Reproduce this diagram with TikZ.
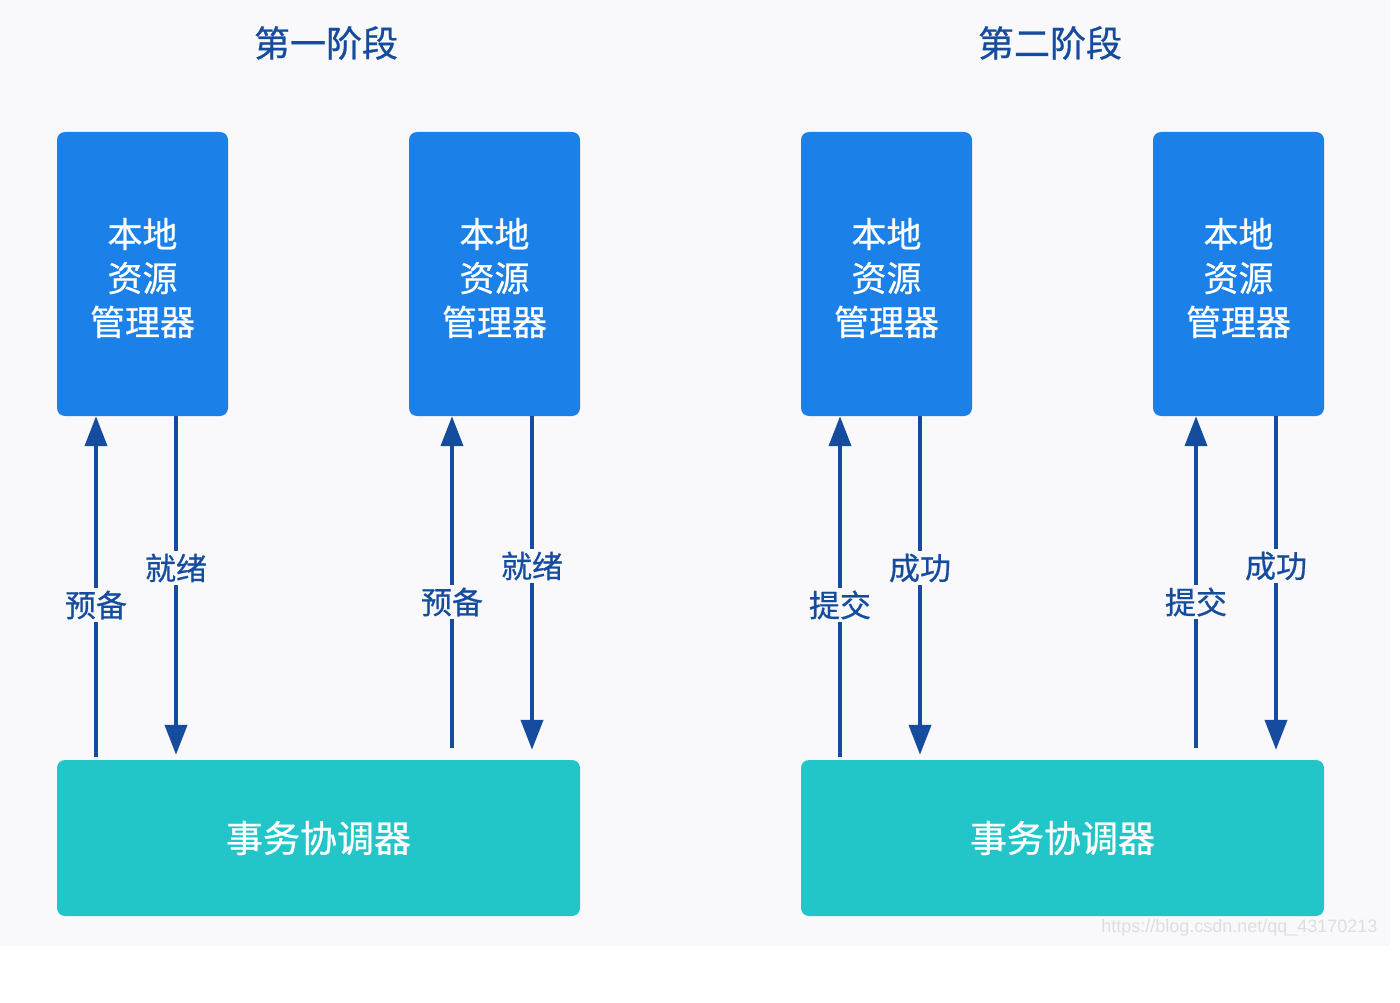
\documentclass[tikz,border=0pt]{standalone}
\usepackage{fontspec}
\setmainfont{Liberation Sans}
\newfontfamily\cjk{Noto Sans CJK SC}[FakeBold=0.7]
\usetikzlibrary{arrows.meta}
\definecolor{bgc}{RGB}{249,249,251}
\definecolor{boxblue}{RGB}{27,128,232}
\definecolor{boxteal}{RGB}{34,198,200}
\definecolor{darkb}{RGB}{22,76,158}
\definecolor{wmark}{RGB}{222,222,226}
\tikzset{
  rm/.style={rectangle, rounded corners=8pt, fill=boxblue, draw=none,
    minimum width=171pt, minimum height=284pt},
  rmtext/.style={text=white, align=center, inner sep=0pt,
    font=\cjk\fontsize{35}{44}\selectfont},
  tc/.style={rectangle, rounded corners=8pt, fill=boxteal, draw=none,
    minimum width=523pt, minimum height=156pt, text=white,
    font=\cjk\fontsize{37}{44}\selectfont},
  ttl/.style={text=darkb, font=\cjk\fontsize{36}{40}\selectfont},
  lbl/.style={fill=bgc, text=darkb, inner sep=3pt, font=\cjk\fontsize{31}{34}\selectfont},
  arr/.style={draw=darkb, line width=4pt, -{Triangle[length=30pt,width=22pt]}},
}
\begin{document}
\begin{tikzpicture}[x=1pt,y=-1pt]
\useasboundingbox (0,0) rectangle (1400,1003);
\fill[white] (0,0) rectangle (1400,1003);
\fill[bgc] (0,0) rectangle (1390,946);

\node[ttl] (t1) at (326,43) {第一阶段};
\node[ttl] (t2) at (1050,43) {第二阶段};

\node[rm] (r1) at (142.5,274) {};
\node[rm] (r2) at (494.5,274) {};
\node[rm] (r3) at (886.5,274) {};
\node[rm] (r4) at (1238.5,274) {};
\node[rmtext, yshift=-4pt] (r1t) at (r1.center) {本地\\资源\\管理器};
\node[rmtext, yshift=-4pt] (r2t) at (r2.center) {本地\\资源\\管理器};
\node[rmtext, yshift=-4pt] (r3t) at (r3.center) {本地\\资源\\管理器};
\node[rmtext, yshift=-4pt] (r4t) at (r4.center) {本地\\资源\\管理器};

\node[tc] (c1) at (318.5,838) {事务协调器};
\node[tc] (c2) at (1062.5,838) {事务协调器};

\coordinate (x1) at (96,0);
\coordinate (x2) at (176,0);
\coordinate (x3) at (452,0);
\coordinate (x4) at (532,0);
\coordinate (x5) at (840,0);
\coordinate (x6) at (920,0);
\coordinate (x7) at (1196,0);
\coordinate (x8) at (1276,0);

\draw[arr, shorten <=3pt] (x1 |- c1.north) -- (x1 |- r1.south);
\draw[arr, shorten >=5pt] (x2 |- r1.south) -- (x2 |- c1.north);
\draw[arr, shorten <=12pt] (x3 |- c1.north) -- (x3 |- r2.south);
\draw[arr, shorten >=10pt] (x4 |- r2.south) -- (x4 |- c1.north);
\draw[arr, shorten <=3pt] (x5 |- c2.north) -- (x5 |- r3.south);
\draw[arr, shorten >=5pt] (x6 |- r3.south) -- (x6 |- c2.north);
\draw[arr, shorten <=12pt] (x7 |- c2.north) -- (x7 |- r4.south);
\draw[arr, shorten >=10pt] (x8 |- r4.south) -- (x8 |- c2.north);

\node[lbl] (l1) at (96,605) {预备};
\node[lbl] (l2) at (176,568) {就绪};
\node[lbl] (l3) at (452,602) {预备};
\node[lbl] (l4) at (532,566) {就绪};
\node[lbl] (l5) at (840,605) {提交};
\node[lbl] (l6) at (920,568) {成功};
\node[lbl] (l7) at (1196,602) {提交};
\node[lbl] (l8) at (1276,566) {成功};

\node[text=wmark, font=\fontsize{18}{20}\selectfont, anchor=east] (wm) at (1381,928) {https://blog.csdn.net/qq\_43170213};
\end{tikzpicture}
\end{document}
